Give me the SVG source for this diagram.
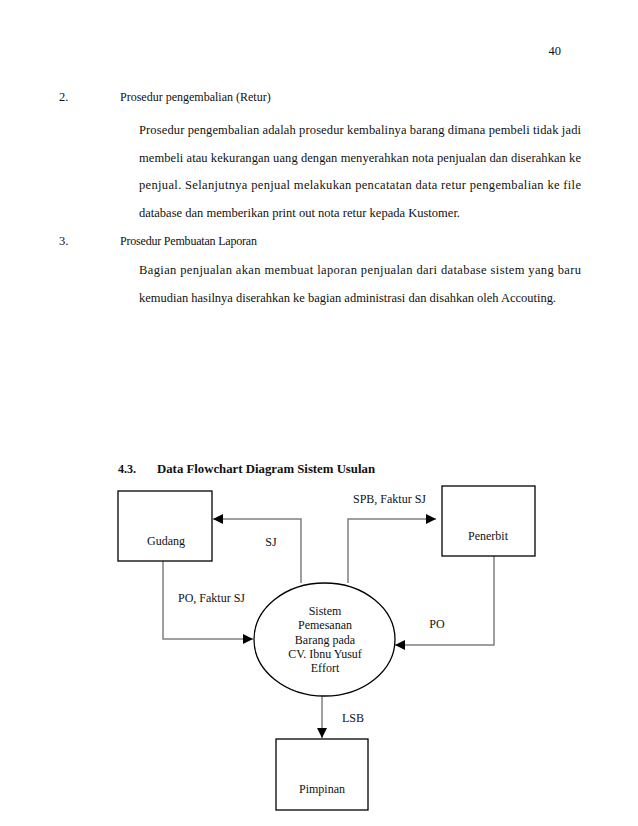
<svg xmlns="http://www.w3.org/2000/svg" width="638" height="826" viewBox="0 0 638 826">
<style>
text{font-family:"Liberation Serif","Times New Roman",serif;font-size:12px;fill:#111}
.p{font-size:12.5px}
.b{font-weight:bold}
.m{text-anchor:middle}
.box{fill:#fff;stroke:#000;stroke-width:1.3}
.con{fill:none;stroke:#808080;stroke-width:1.5}
</style>
<defs>
<marker id="ah" markerUnits="userSpaceOnUse" markerWidth="10" markerHeight="10" viewBox="0 0 10 10" refX="10" refY="5" orient="auto">
<path d="M0,0 L10,5 L0,10 Z" fill="#000"/>
</marker>
</defs>
<rect width="638" height="826" fill="#fff"/>
<g id="page-text">
<text class="p" x="561" y="55" text-anchor="end">40</text>
<text class="p" x="59" y="101">2.</text>
<text x="120" y="101">Prosedur pengembalian (Retur)</text>
<text class="p" x="139" y="134" textLength="442" lengthAdjust="spacing">Prosedur pengembalian adalah prosedur kembalinya barang dimana pembeli tidak jadi</text>
<text class="p" x="139" y="162" textLength="442" lengthAdjust="spacing">membeli atau kekurangan uang dengan menyerahkan nota penjualan dan diserahkan ke</text>
<text class="p" x="139" y="189" textLength="442" lengthAdjust="spacing">penjual. Selanjutnya penjual melakukan pencatatan data retur pengembalian ke file</text>
<text class="p" x="139" y="217" textLength="321" lengthAdjust="spacingAndGlyphs">database dan memberikan print out nota retur kepada Kustomer.</text>
<text class="p" x="59" y="245">3.</text>
<text x="120" y="245" textLength="137" lengthAdjust="spacing">Prosedur Pembuatan Laporan</text>
<text class="p" x="139" y="274" textLength="442" lengthAdjust="spacing">Bagian penjualan akan membuat laporan penjualan dari database sistem yang baru</text>
<text class="p" x="139" y="302" textLength="417" lengthAdjust="spacingAndGlyphs">kemudian hasilnya diserahkan ke bagian administrasi dan disahkan oleh Accouting.</text>
<text class="b" x="118" y="473">4.3.</text>
<text class="b" x="157" y="473" textLength="218" lengthAdjust="spacingAndGlyphs">Data Flowchart Diagram Sistem Usulan</text>
</g>
<g id="connectors">
<path class="con" d="M301,583 V519 H213" marker-end="url(#ah)"/>
<path class="con" d="M348,583 V519 H436" marker-end="url(#ah)"/>
<path class="con" d="M163,561 V639 H253" marker-end="url(#ah)"/>
<path class="con" d="M494,556 V645 H395" marker-end="url(#ah)"/>
<path class="con" d="M322,696 V738" marker-end="url(#ah)"/>
<text class="m" x="271" y="546">SJ</text>
<text x="353" y="503">SPB, Faktur SJ</text>
<text x="178" y="602">PO, Faktur SJ</text>
<text class="m" x="437" y="628">PO</text>
<text x="342" y="722">LSB</text>
</g>
<g id="gudang">
<rect class="box" x="118" y="491" width="94" height="70"/>
<text class="m" x="166" y="545">Gudang</text>
</g>
<g id="penerbit">
<rect class="box" x="442" y="486" width="93" height="70"/>
<text class="m" x="488" y="540">Penerbit</text>
</g>
<g id="sistem">
<ellipse class="box" cx="324.5" cy="639.5" rx="70.5" ry="56.5"/>
<text class="m" x="325" y="615">Sistem</text>
<text class="m" x="325" y="629">Pemesanan</text>
<text class="m" x="325" y="644">Barang pada</text>
<text class="m" x="325" y="658">CV. Ibnu Yusuf</text>
<text class="m" x="325" y="672">Effort</text>
</g>
<g id="pimpinan">
<rect class="box" x="276" y="739" width="92" height="71"/>
<text class="m" x="322" y="793">Pimpinan</text>
</g>
</svg>
